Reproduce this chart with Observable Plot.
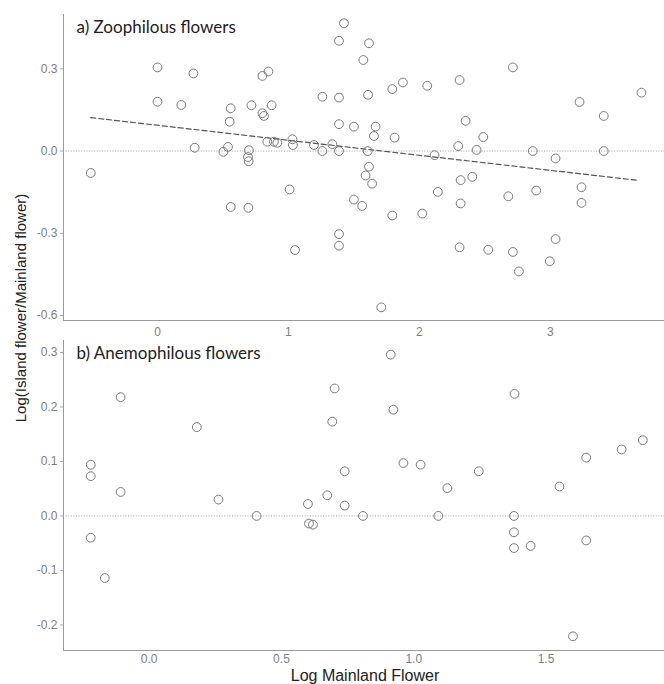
<!DOCTYPE html>
<html>
<head>
<meta charset="utf-8">
<script src="https://cdn.jsdelivr.net/npm/d3@7"></script>
<script src="https://cdn.jsdelivr.net/npm/@observablehq/plot@0.6"></script>
<style>
  html, body { margin: 0; padding: 0; background: #fff; }
  #wrap { position: relative; width: 664px; height: 684px; overflow: hidden; background: #fff; }
  #top, #bottom { position: absolute; left: 0; }
  #top { top: 0; }
  #bottom { top: 340px; }
  svg { overflow: visible; }
  .ylab { position: absolute; left: 20px; top: 308px; transform: translate(-50%, -50%) rotate(-90deg);
          white-space: nowrap; font-family: "Liberation Sans", Arial, sans-serif; font-size: 15px; line-height: 1; color: #222; }
  .xlab { position: absolute; left: 365px; top: 668px; transform: translateX(-50%);
          white-space: nowrap; font-family: "Liberation Sans", Arial, sans-serif; font-size: 16px; line-height: 1; color: #222; }
</style>
</head>
<body>
<div id="wrap">
  <div id="top"></div>
  <div id="bottom"></div>
  <div class="ylab">Log(Island flower/Mainland flower)</div>
  <div class="xlab">Log Mainland Flower</div>
</div>
<script>
// ---- Panel a) Zoophilous flowers ----
const zooX = [1.424, 1.386, 1.615, 1.572, 0.0, 0.274, 0.801, 0.847, 0.0, 0.182,
  0.559, 0.717, 0.801, 0.813, 0.872, 1.259, 1.386, 1.608, 0.551, 1.386,
  1.500, 0.284, 0.503, 0.538, 0.698, 0.691, 0.696, 0.839, 0.889, 0.915,
  1.030, 1.034, 1.195, 1.259, 1.335, 1.386, 1.605, 1.615, -0.510, 1.793,
  1.874, 2.060, 2.307, 2.714, 3.696, 3.223, 3.408, 2.353, 1.666, 1.653,
  1.811, 2.488, 2.297, 2.437, 2.866, 3.408, 2.116, 3.040, 0.559, 0.694,
  1.009, 1.050, 1.386, 1.386, 1.500, 1.563, 1.589, 1.639, 1.793, 2.022,
  2.141, 2.315, 2.404, 2.315, 2.679, 2.892, 3.238, 3.238, 2.307, 2.526,
  2.714, 2.760, 2.996, 3.040, 1.709];
const zooY = [0.466, 0.402, 0.393, 0.332, 0.305, 0.283, 0.274, 0.290, 0.180, 0.168,
  0.156, 0.167, 0.138, 0.128, 0.167, 0.198, 0.195, 0.205, 0.107, 0.098,
  0.089, 0.012, -0.003, 0.015, 0.003, -0.022, -0.037, 0.034, 0.034, 0.030,
  0.043, 0.022, 0.022, 0.0, 0.025, 0.0, 0.0, -0.057, -0.080, 0.226,
  0.250, 0.238, 0.259, 0.305, 0.213, 0.179, 0.128, 0.110, 0.089, 0.055,
  0.049, 0.051, 0.018, 0.004, 0.0, 0.0, -0.015, -0.027, -0.204, -0.207,
  -0.140, -0.361, -0.303, -0.345, -0.177, -0.200, -0.089, -0.119, -0.235, -0.228,
  -0.149, -0.106, -0.094, -0.191, -0.165, -0.144, -0.132, -0.189, -0.351, -0.360,
  -0.368, -0.439, -0.402, -0.321, -0.570];
// fitted regression line (end points)
const zooFitX = [-0.51, 3.67];
const zooFitY = [0.122, -0.107];
const zooXTicks = [0, 1, 2, 3];
const zooYTicks = [-0.6, -0.3, 0.0, 0.3];

// ---- Panel b) Anemophilous flowers ----
const aneX = [0.701, 0.692, -0.108, 0.180, -0.221, -0.221, -0.108, 0.262, 0.739, 0.673,
  0.739, 0.600, 0.913, 0.923, 1.381, 0.961, 1.026, 1.127, 1.246, 1.551,
  1.652, 1.786, 1.866, 0.406, 0.604, 0.619, 0.808, -0.221, -0.168, 1.093,
  1.379, 1.379, 1.379, 1.442, 1.652, 1.602];
const aneY = [0.234, 0.173, 0.218, 0.163, 0.094, 0.073, 0.044, 0.030, 0.082, 0.038,
  0.019, 0.022, 0.296, 0.195, 0.224, 0.097, 0.094, 0.051, 0.082, 0.054,
  0.107, 0.122, 0.139, 0.0, -0.014, -0.016, 0.0, -0.040, -0.114, 0.0,
  0.0, -0.030, -0.059, -0.055, -0.045, -0.221];
const aneXTicks = [0.0, 0.5, 1.0, 1.5];
const aneYTicks = [-0.2, -0.1, 0.0, 0.1, 0.2, 0.3];

const zoo = zooX.map((x, i) => ({x, y: zooY[i]}));
const ane = aneX.map((x, i) => ({x, y: aneY[i]}));
const zooFit = zooFitX.map((x, i) => ({x, y: zooFitY[i]}));

const tickFont = "Liberation Sans, Arial, sans-serif";
const labelFont = "Lato, 'Open Sans', sans-serif";
const fmt1 = d => d.toFixed(1);
const circleStyle = {r: 4.4, stroke: "#7a7a7a", strokeWidth: 1, fill: "none"};

function panel({data, xDomain, yDomain, xTicks, yTicks, xFmt, xPad, height, marginTop, marginBottom, label, extra}) {
  return Plot.plot({
    width: 664, height, marginLeft: 63, marginRight: 0, marginTop, marginBottom,
    style: {background: "transparent", overflow: "visible"},
    x: {domain: xDomain},
    y: {domain: yDomain},
    marks: [
      Plot.ruleY([0], {stroke: "#9a9a9a", strokeWidth: 0.9, strokeDasharray: "1,1.6"}),
      ...extra,
      Plot.dot(data, {x: "x", y: "y", ...circleStyle}),
      Plot.ruleX([xDomain[0]], {stroke: "#9a9a9a", strokeWidth: 1}),
      Plot.ruleY([yDomain[0]], {stroke: "#9a9a9a", strokeWidth: 1}),
      Plot.axisY(yTicks, {tickSize: 3, tickPadding: 3, tickFormat: fmt1, label: null,
        stroke: "#aaa", fill: "#808080", fontSize: 12, fontFamily: tickFont}),
      Plot.axisX(xTicks, {tickSize: 0, tickPadding: xPad, tickFormat: xFmt, label: null,
        fill: "#808080", fontSize: 12, fontFamily: tickFont}),
      Plot.text([label], {frameAnchor: "top-left", dx: 13, dy: 6, text: d => d,
        fontSize: 17, fontFamily: labelFont, fill: "#222", textAnchor: "start", lineAnchor: "top"})
    ]
  });
}

document.getElementById("top").append(panel({
  data: zoo, xDomain: [-0.718, 3.872], yDomain: [-0.618, 0.498],
  xTicks: zooXTicks, yTicks: zooYTicks, xFmt: d => String(d), xPad: 7,
  height: 340, marginTop: 14, marginBottom: 20,
  label: "a) Zoophilous flowers",
  extra: [Plot.line(zooFit, {x: "x", y: "y", stroke: "#555", strokeWidth: 1.2, strokeDasharray: "5,3"})]
}));

document.getElementById("bottom").append(panel({
  data: ane, xDomain: [-0.324, 1.948], yDomain: [-0.247, 0.322],
  xTicks: aneXTicks, yTicks: aneYTicks, xFmt: fmt1, xPad: 4,
  height: 344, marginTop: 0, marginBottom: 34,
  label: "b) Anemophilous flowers",
  extra: []
}));
</script>
</body>
</html>
